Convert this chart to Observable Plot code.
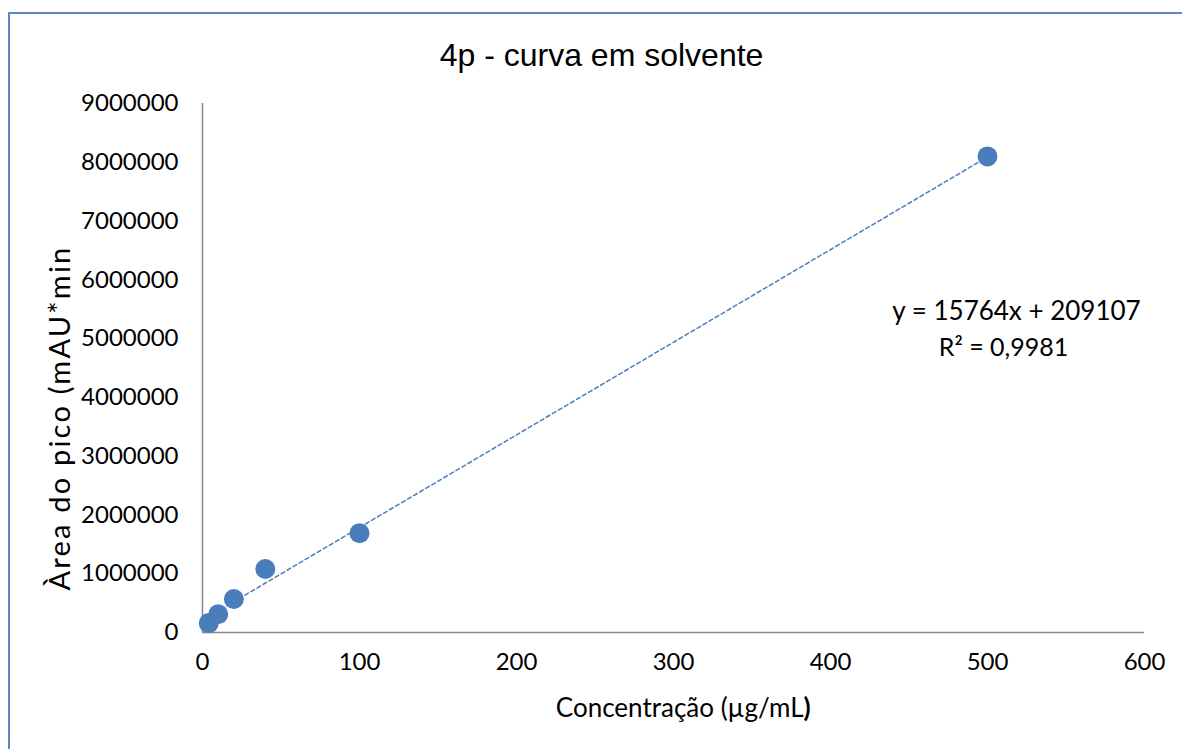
<!DOCTYPE html>
<html><head><meta charset="utf-8">
<script src="https://cdn.jsdelivr.net/npm/d3@7"></script>
<script src="https://cdn.jsdelivr.net/npm/@observablehq/plot@0.6"></script>
<style>
body{margin:0;background:#fff;}
#wrap{position:relative;width:1182px;height:749px;overflow:hidden;}
#frame{position:absolute;left:8px;top:12px;width:1200px;height:800px;border-left:2px solid #5b87c6;border-top:2px solid #5b87c6;}
#chart{position:absolute;left:0;top:0;}
</style></head><body>
<div id="wrap"><div id="frame"></div><div id="chart"></div></div>
<script>
// Data
const concentration = [4, 10, 20, 40, 100, 500];
const peakArea = [160000, 310000, 570000, 1080000, 1690000, 8100000];
const xTicks = [0, 100, 200, 300, 400, 500, 600];
const yTicks = [0, 1000000, 2000000, 3000000, 4000000, 5000000, 6000000, 7000000, 8000000, 9000000];
const slope = 15764, intercept = 209107;
const titleText = "4p - curva em solvente";
const xLabel = "Concentração (µg/mL";
const yLabel = "Àrea do pico (mAU*min";
const equationText = "y = 15764x + 209107";
const r2Text = "R² = 0,9981";

const points = concentration.map((c, i) => ({x: c, y: peakArea[i]}));
const xMin = d3.min(concentration), xMax = d3.max(concentration);
const trend = [xMin, xMax].map(x => ({x, y: slope * x + intercept}));

const blue = "#4a7ebb";
const axisGray = "#878787";
const font = "Lato, 'Open Sans', sans-serif";

const chart = Plot.plot({
  width: 1182, height: 749,
  marginLeft: 202, marginRight: 38, marginTop: 103, marginBottom: 117,
  style: {fontFamily: font, fontSize: "24px", color: "#000", background: "transparent"},
  x: {domain: [0, 600]},
  y: {domain: [0, 9000000]},
  marks: [
    Plot.axisX({ticks: xTicks, tickSize: 0, tickPadding: 20, tickFormat: d => String(d), fontSize: 24, label: null}),
    Plot.axisY({ticks: yTicks, tickSize: 0, tickPadding: 24, tickFormat: d => String(d), fontSize: 24, label: null}),
    Plot.ruleX([0], {stroke: axisGray, strokeWidth: 1.5}),
    Plot.ruleY([0], {stroke: axisGray, strokeWidth: 1.5}),
    Plot.line(trend, {x: "x", y: "y", stroke: blue, strokeWidth: 1.5, strokeDasharray: "4,3"}),
    Plot.dot(points, {x: "x", y: "y", r: 10, fill: blue, stroke: "none"}),
    Plot.text([titleText], {frameAnchor: "top", dx: -72, dy: -48, lineAnchor: "middle", textAnchor: "middle", fontSize: 32, fontFamily: "'Liberation Sans', Arial, sans-serif", fill: "#000"}),
    Plot.text([xLabel], {frameAnchor: "bottom", dx: 130, dy: 76, lineAnchor: "middle", textAnchor: "end", fontSize: 26, fill: "#000"}),
    Plot.text([")"], {frameAnchor: "bottom", dx: 130, dy: 76, lineAnchor: "middle", textAnchor: "start", fontSize: 26, fontWeight: "bold", fill: "#000"}),
    Plot.text([yLabel], {frameAnchor: "left", dx: -142, dy: 50, rotate: -90, lineAnchor: "middle", textAnchor: "middle", fontSize: 29, fill: "#000"}),
    Plot.text([equationText], {frameAnchor: "top-right", dx: -128, dy: 208, lineAnchor: "middle", textAnchor: "middle", fontSize: 26, fill: "#000"}),
    Plot.text([r2Text], {frameAnchor: "top-right", dx: -141, dy: 244, lineAnchor: "middle", textAnchor: "middle", fontSize: 25, fill: "#000"})
  ]
});
chart.querySelectorAll("text").forEach(t => {
  if (t.textContent === yLabel) t.setAttribute("letter-spacing", "2.2");
});
document.getElementById("chart").appendChild(chart);
</script>
</body></html>
